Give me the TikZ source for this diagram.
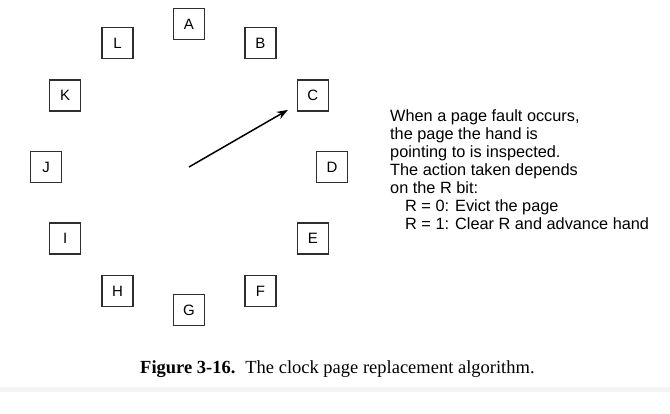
\documentclass[tikz,border=0pt]{standalone}
\usepackage{fontspec}
\setmainfont{Liberation Sans}
\newfontfamily\capfont{Liberation Serif}
\usetikzlibrary{arrows.meta}
\definecolor{boxline}{HTML}{2E2E2E}
\definecolor{strip}{HTML}{F3F4F6}
\begin{document}
\begin{tikzpicture}[x=1pt,y=-1pt,
  pagebox/.style={draw=boxline,line width=1.6pt,minimum size=31pt,inner sep=0pt,
    font=\fontsize{15}{18}\selectfont},
  hand/.style={line width=1.5pt,-{Stealth[length=11pt,width=8pt]},shorten >=10pt},
  note/.style={align=left,inner sep=0pt,anchor=north west,font=\fontsize{16.3}{18.1}\selectfont},
  caption/.style={inner sep=0pt,anchor=base west,font=\capfont\fontsize{18.5}{22}\selectfont}]
\useasboundingbox (0,0) rectangle (670,413);
\fill[strip] (0,387) rectangle (670,392);
\coordinate (O) at (189,167);
\foreach \l/\a in {A/90,B/60,C/30,D/0,E/-30,F/-60,G/-90,H/-120,I/-150,J/180,K/150,L/120}
  \node[pagebox] (\l) at ({189+143*cos(\a)},{167-143*sin(\a)}) {\l};
\draw[hand] (O) -- (C);
\node[note] (txt) at (390,109) {When a page fault occurs,\\
the page the hand is\\
pointing to is inspected.\\
The action taken depends\\
on the R bit:\\
\hspace*{15pt}R = 0: Evict the page\\
\hspace*{15pt}R = 1: Clear R and advance hand};
\node[caption] (cap) at (140,373) {\textbf{Figure 3-16.}\hspace{10pt}The clock page replacement algorithm.};
\end{tikzpicture}
\end{document}
